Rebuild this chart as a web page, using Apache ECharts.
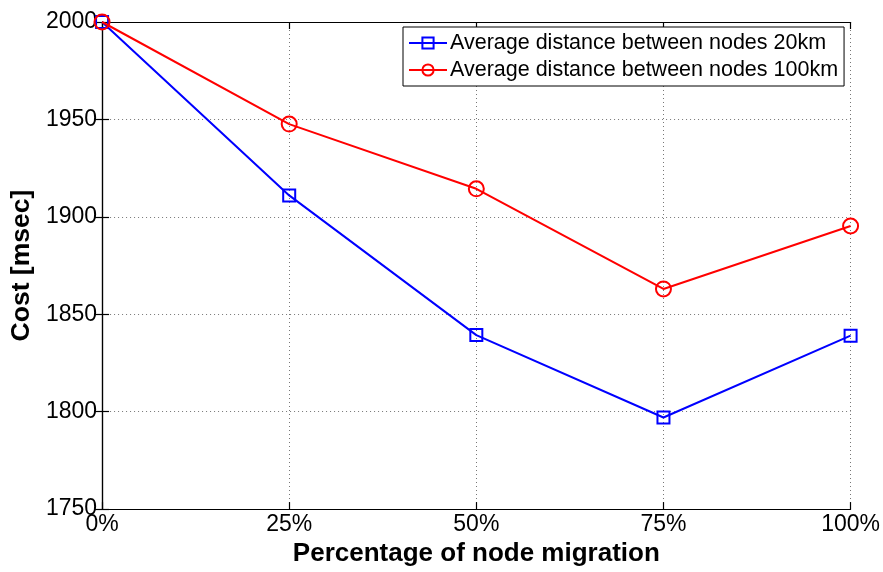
<!DOCTYPE html>
<html>
<head>
<meta charset="utf-8">
<script src="https://cdn.jsdelivr.net/npm/echarts@6/dist/echarts.min.js"></script>
<style>
  html, body { margin: 0; padding: 0; background: #fff; }
  #chart { width: 883px; height: 572px; }
</style>
</head>
<body>
<div id="chart"></div>
<script>
// Node migration percentage (x) and cost in msec (y)
const migrationPct = [0, 25, 50, 75, 100];
const cost20km = [2000, 1911, 1839.3, 1797, 1839];
const cost100km = [2000, 1947.6, 1914.4, 1863, 1895.3];
const seriesNames = ['Average distance between nodes 20km', 'Average distance between nodes 100km'];
const yTicks = { min: 1750, max: 2000, step: 50 };
const xTicks = { min: 0, max: 100, step: 25 };

const FONT = '"Liberation Sans", Arial, Helvetica, sans-serif';
const pairs = (xs, ys) => xs.map((x, i) => [x, ys[i]]);

const chart = echarts.init(document.getElementById('chart'), null, { renderer: 'canvas' });

const gridLine = { show: true, lineStyle: { color: '#777', width: 1, type: [1, 3] } };
const frame = { show: true, lineStyle: { color: '#000', width: 1.2 } };
const innerTick = { show: true, inside: true, length: 7, lineStyle: { color: '#000', width: 1.2 } };

chart.setOption({
  animation: false,
  backgroundColor: '#fff',
  grid: { left: 101, right: 32, top: 22, bottom: 58, containLabel: false },
  legend: {
    show: true,
    left: 403,
    top: 27,
    orient: 'vertical',
    data: seriesNames,
    backgroundColor: '#fff',
    borderColor: '#000',
    borderWidth: 1,
    borderRadius: 0,
    padding: [5, 6, 5, 5],
    itemGap: 5,
    itemWidth: 38,
    itemHeight: 14,
    textStyle: { fontFamily: FONT, fontSize: 21.5, color: '#000', padding: [0, 0, 0, -2] }
  },
  xAxis: [
    {
      type: 'value', position: 'bottom',
      min: xTicks.min, max: xTicks.max, interval: xTicks.step,
      name: 'Percentage of node migration', nameLocation: 'middle', nameGap: 30,
      nameTextStyle: { fontFamily: FONT, fontSize: 26, fontWeight: 'bold', color: '#000' },
      axisLine: frame, axisTick: innerTick,
      axisLabel: { fontFamily: FONT, fontSize: 23, color: '#000', margin: 4, formatter: '{value}%' },
      splitLine: gridLine
    },
    {
      type: 'value', position: 'top',
      min: xTicks.min, max: xTicks.max, interval: xTicks.step,
      axisLine: frame, axisTick: innerTick, axisLabel: { show: false }, splitLine: { show: false }
    }
  ],
  yAxis: [
    {
      type: 'value', position: 'left',
      min: yTicks.min, max: yTicks.max, interval: yTicks.step,
      name: 'Cost [msec]', nameLocation: 'middle', nameGap: 58, nameRotate: 90,
      nameTextStyle: { fontFamily: FONT, fontSize: 26.5, fontWeight: 'bold', color: '#000' },
      axisLine: frame, axisTick: innerTick,
      axisLabel: { fontFamily: FONT, fontSize: 23, color: '#000', margin: 5, formatter: v => String(v) },
      splitLine: gridLine
    },
    {
      type: 'value', position: 'right',
      min: yTicks.min, max: yTicks.max, interval: yTicks.step,
      axisLine: frame, axisTick: innerTick, axisLabel: { show: false }, splitLine: { show: false }
    }
  ],
  series: [
    {
      name: seriesNames[0], type: 'line', data: pairs(migrationPct, cost20km),
      symbol: 'rect', symbolSize: 12, showAllSymbol: true,
      lineStyle: { color: '#0000ff', width: 2 },
      itemStyle: { color: 'rgba(0,0,0,0)', borderColor: '#0000ff', borderWidth: 2 },
      z: 3
    },
    {
      name: seriesNames[1], type: 'line', data: pairs(migrationPct, cost100km),
      symbol: 'circle', symbolSize: 15, showAllSymbol: true,
      lineStyle: { color: '#ff0000', width: 2 },
      itemStyle: { color: 'rgba(0,0,0,0)', borderColor: '#ff0000', borderWidth: 2 },
      z: 4
    }
  ]
});
</script>
</body>
</html>
